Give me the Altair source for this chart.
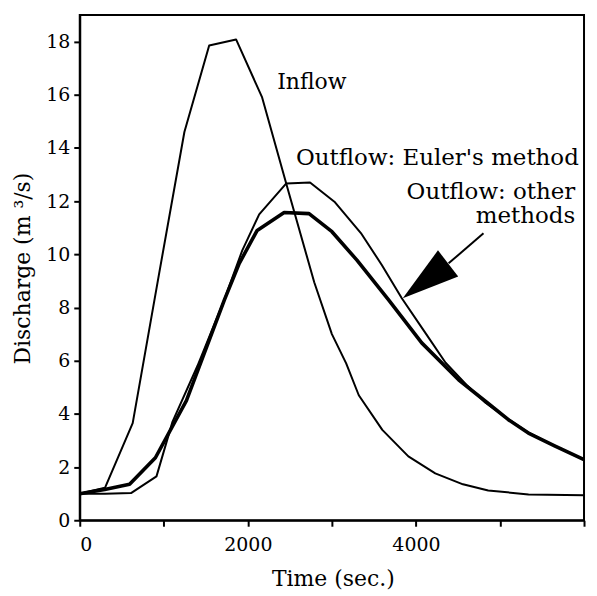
import altair as alt
import pandas as pd

# Inflow hydrograph
inflow_t = [0, 300, 630, 940, 1245, 1540, 1860, 2170, 2480, 2790, 3000, 3170, 3320, 3600, 3910, 4230, 4560, 4860, 5340, 6000]
inflow_q = [1.0, 1.22, 3.65, 9.2, 14.6, 17.85, 18.08, 15.9, 12.4, 8.95, 7.0, 5.9, 4.7, 3.4, 2.4, 1.76, 1.35, 1.12, 0.97, 0.94]

# Outflow: Euler's method
euler_t = [0, 300, 610, 913, 1103, 1400, 1720, 1934, 2135, 2455, 2740, 3030, 3345, 3594, 3832, 4100, 4353, 4600, 4828, 5100, 5338, 5650, 6000]
euler_q = [1.0, 1.0, 1.02, 1.65, 3.7, 5.8, 8.3, 10.15, 11.5, 12.66, 12.7, 11.98, 10.8, 9.6, 8.35, 7.1, 5.92, 5.1, 4.42, 3.8, 3.3, 2.8, 2.28]

# Outflow: other methods
other_t = [0, 297, 593, 900, 1269, 1720, 1898, 2111, 2432, 2728, 3001, 3298, 3677, 4069, 4508, 4864, 5100, 5338, 5650, 6000]
other_q = [1.0, 1.16, 1.35, 2.35, 4.5, 8.28, 9.66, 10.9, 11.57, 11.53, 10.85, 9.78, 8.28, 6.67, 5.28, 4.38, 3.78, 3.28, 2.8, 2.28]

# Annotations
inflow_label = "Inflow"
inflow_label_pos = (2349, 16.2)
euler_label = "Outflow: Euler's method"
euler_label_pos = (2574, 13.37)
other_label = ["Outflow: other", "methods"]
other_label_pos = (5896, 12.07)

# Arrow
shaft_t = [4389]
shaft_q = [9.66]
shaft_t2 = [4804]
shaft_q2 = [10.79]
head_t = [4113]
head_q = [9.0]

FONT = "DejaVu Serif"

rows = []
for name, ts, qs in [("Inflow", inflow_t, inflow_q), ("Euler", euler_t, euler_q), ("Other", other_t, other_q)]:
    for i, (t, q) in enumerate(zip(ts, qs)):
        rows.append({"series": name, "t": t, "q": q, "order": i})
df = pd.DataFrame(rows)

xscale = alt.Scale(domain=[0, 6000], nice=False, zero=False)
yscale = alt.Scale(domain=[0, 19], nice=False, zero=False)

common_axis = dict(
    grid=False, tickSize=6, tickWidth=2, domainWidth=2, domainColor="black", tickColor="black",
    labelFont=FONT, labelFontSize=19, labelColor="black",
    titleFont=FONT, titleFontSize=22, titleColor="black", titleFontWeight="normal",
)

xaxis = alt.Axis(
    title="Time (sec.)", values=[0, 1000, 2000, 3000, 4000, 5000, 6000],
    labelExpr="(datum.value % 2000 == 0 && datum.value < 6000) ? datum.label : ''",
    format="d", labelPadding=9, titleX=254, titleY=65, titleBaseline="alphabetic",
    titleAlign="center", **common_axis,
)
yaxis = alt.Axis(
    title="Discharge (m ³/s)", values=list(range(0, 19, 2)), labelPadding=4,
    titleX=-57, titleY=254, titleAngle=-90, titleBaseline="middle", titleAlign="center",
    **common_axis,
)

base = alt.Chart(df)

def line(name, width):
    return base.transform_filter(alt.datum.series == name).mark_line(
        color="black", strokeWidth=width, strokeJoin="round"
    ).encode(
        x=alt.X("t:Q", scale=xscale, axis=xaxis),
        y=alt.Y("q:Q", scale=yscale, axis=yaxis),
        order="order:Q",
    )

lines = line("Inflow", 2) + line("Euler", 2) + line("Other", 3.6)

def text(label, pos, size, align):
    return alt.Chart(pd.DataFrame({"t": [pos[0]], "q": [pos[1]]})).mark_text(
        font=FONT, fontSize=size, align=align, baseline="alphabetic", color="black",
        text=label, lineHeight=24,
    ).encode(x=alt.X("t:Q", scale=xscale), y=alt.Y("q:Q", scale=yscale))

txt = (text(inflow_label, inflow_label_pos, 22, "left")
       + text(euler_label, euler_label_pos, 23, "left")
       + text(other_label, other_label_pos, 23, "right"))

shaft = alt.Chart(pd.DataFrame({"t": shaft_t, "q": shaft_q, "t2": shaft_t2, "q2": shaft_q2})).mark_rule(
    color="black", strokeWidth=2
).encode(x=alt.X("t:Q", scale=xscale), y=alt.Y("q:Q", scale=yscale), x2="t2:Q", y2="q2:Q")

head = alt.Chart(pd.DataFrame({"t": head_t, "q": head_q})).mark_point(
    shape="M0,-1L0.58,1L-0.58,1Z", size=3295, angle=232.4, filled=True,
    color="black", opacity=1, strokeWidth=0
).encode(x=alt.X("t:Q", scale=xscale), y=alt.Y("q:Q", scale=yscale))

chart = alt.layer(lines, txt, shaft, head).properties(
    width=506, height=507,
    autosize=alt.AutoSizeParams(type="none"),
    padding={"left": 72, "top": 6, "right": 5, "bottom": 70},
    background="white",
).configure_view(
    stroke="black", strokeWidth=2
)

chart.save("out.html", embed_options={"renderer": "svg", "actions": False})
